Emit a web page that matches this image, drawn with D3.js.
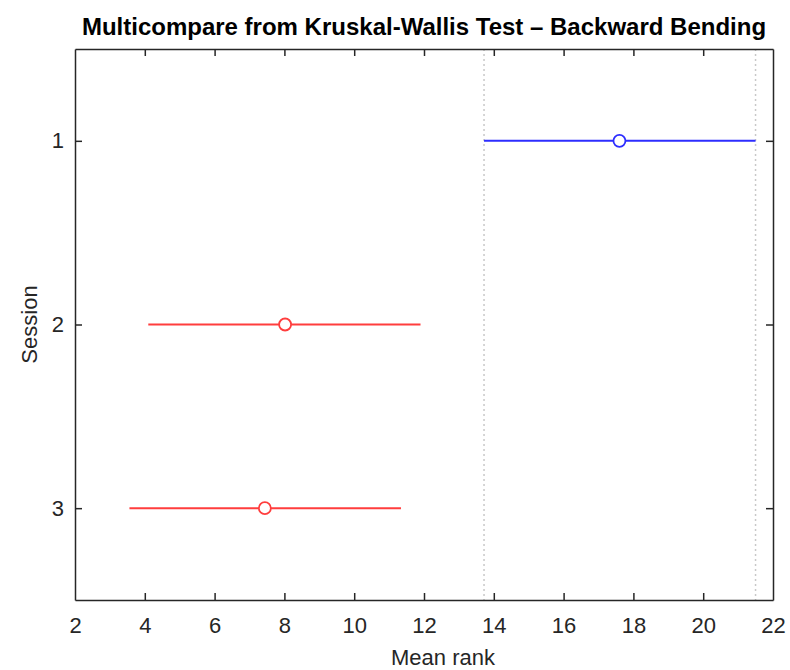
<!DOCTYPE html>
<html><head><meta charset="utf-8">
<script src="https://cdn.jsdelivr.net/npm/d3@7"></script>
<style>body{margin:0;background:#fff;} text{font-family:Arial,"Liberation Sans",sans-serif;}</style>
</head><body>
<svg id="chart" width="790" height="670"></svg>
<script>
const sessions = ["1", "2", "3"];
const meanRanks = [17.6, 8.02, 7.44];
const lowerBounds = [13.72, 4.1, 3.56];
const upperBounds = [21.5, 11.9, 11.34];
const groupColors = ["#2d2dff", "#ff3d3d", "#ff3d3d"];
const xTicks = [2, 4, 6, 8, 10, 12, 14, 16, 18, 20, 22];
const refLines = [lowerBounds[0], upperBounds[0]];

const svg = d3.select("#chart");
const m = {left: 75, right: 17, top: 49, bottom: 70};
const W = 790, H = 670;
const x = d3.scaleLinear().domain([2, 22]).range([m.left, W - m.right]);
const y = d3.scaleLinear().domain([0.5, 3.5]).range([m.top, H - m.bottom]);
const axisColor = "#262626";

// reference dotted lines
svg.selectAll(".ref").data(refLines).enter().append("line")
  .attr("x1", d => x(d)).attr("x2", d => x(d))
  .attr("y1", y(0.5)).attr("y2", y(3.5))
  .attr("stroke", "#c8c8c8").attr("stroke-width", 1.5).attr("stroke-dasharray", "2,3");

// axes
const xb = svg.append("g").attr("transform", `translate(0,${y(3.5)})`)
  .call(d3.axisBottom(x).tickValues(xTicks).tickSizeInner(-7).tickSizeOuter(0).tickPadding(17));
const xt = svg.append("g").attr("transform", `translate(0,${y(0.5)})`)
  .call(d3.axisTop(x).tickValues(xTicks).tickSizeInner(-7).tickSizeOuter(0).tickFormat(""));
const yl = svg.append("g").attr("transform", `translate(${x(2)},0)`)
  .call(d3.axisLeft(y).tickValues([1,2,3]).tickFormat((d,i) => sessions[i]).tickSizeInner(-7).tickSizeOuter(0).tickPadding(11));
const yr = svg.append("g").attr("transform", `translate(${x(22)},0)`)
  .call(d3.axisRight(y).tickValues([1,2,3]).tickSizeInner(-7).tickSizeOuter(0).tickFormat(""));
[xb, xt, yl, yr].forEach(g => {
  g.selectAll("path,line").attr("stroke", axisColor).attr("stroke-width", 1.5);
  g.selectAll("text").attr("fill", axisColor).style("font-size", "22px")
   .style("font-family", "Arial, 'Liberation Sans', sans-serif");
});
[xb, xt].forEach(g => g.selectAll(".tick line").filter(d => d === 2 || d === 22).remove());

// intervals
const idx = d3.range(sessions.length);
svg.selectAll(".ci").data(idx).enter().append("line")
  .attr("x1", i => x(lowerBounds[i])).attr("x2", i => x(upperBounds[i]))
  .attr("y1", i => y(i + 1)).attr("y2", i => y(i + 1))
  .attr("stroke", i => groupColors[i]).attr("stroke-width", 2);
svg.selectAll(".pt").data(idx).enter().append("circle")
  .attr("cx", i => x(meanRanks[i])).attr("cy", i => y(i + 1)).attr("r", 6)
  .attr("fill", "#fff").attr("stroke", i => groupColors[i]).attr("stroke-width", 1.8);

// title and labels
svg.append("text").attr("x", 424).attr("y", 35).attr("text-anchor", "middle")
  .style("font-size", "24px").style("font-weight", "bold").attr("fill", "#000")
  .text("Multicompare from Kruskal-Wallis Test \u2013 Backward Bending");
svg.append("text").attr("x", 443).attr("y", 665).attr("text-anchor", "middle")
  .style("font-size", "22px").attr("fill", axisColor).text("Mean rank");
svg.append("text").attr("transform", `translate(37,${y(2)}) rotate(-90)`).attr("text-anchor", "middle")
  .style("font-size", "22px").attr("fill", axisColor).text("Session");
</script>
</body></html>
